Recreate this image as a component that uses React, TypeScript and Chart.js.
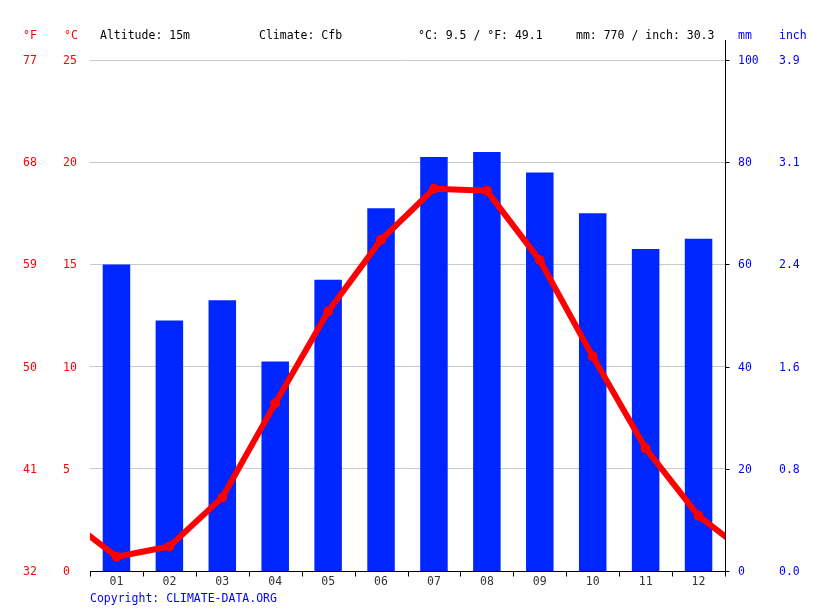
import React, { useEffect, useRef } from 'react';
import { Chart, registerables } from 'chart.js';

Chart.register(...registerables);

const months = ['01', '02', '03', '04', '05', '06', '07', '08', '09', '10', '11', '12'];
const precipitationMm = [60, 49, 53, 41, 57, 71, 81, 82, 78, 70, 63, 65];
const temperatureC = [0.7, 1.2, 3.6, 8.2, 12.7, 16.2, 18.7, 18.6, 15.2, 10.5, 6.0, 2.7];
const celsiusTicks = [0, 5, 10, 15, 20, 25];
const fahrenheitTicks = ['32', '41', '50', '59', '68', '77'];
const mmTicks = [0, 20, 40, 60, 80, 100];
const inchTicks = ['0.0', '0.8', '1.6', '2.4', '3.1', '3.9'];
const headerTexts = ['Altitude: 15m', 'Climate: Cfb', '°C: 9.5 / °F: 49.1', 'mm: 770 / inch: 30.3'];
const copyrightText = 'Copyright: CLIMATE-DATA.ORG';

const FONT = '11.5px "DejaVu Sans Mono", monospace';
const RED = '#ff0000';
const BLUE = '#0000ff';

const overlayPlugin = {
  id: 'overlay',
  afterDraw(chart: any) {
    const { ctx, chartArea } = chart;
    const { left, right, bottom } = chartArea;
    const x = chart.scales.x;
    const y = chart.scales.y;
    const y2 = chart.scales.y2;
    ctx.save();
    ctx.font = FONT;
    ctx.textBaseline = 'middle';
    ctx.textAlign = 'left';

    // header
    ctx.fillStyle = RED;
    ctx.fillText('°F', 23, 36);
    ctx.fillText('°C', 64, 36);
    ctx.fillStyle = BLUE;
    ctx.fillText('mm', 738, 36);
    ctx.fillText('inch', 779, 36);
    ctx.fillStyle = '#000';
    const hx = [100, 259, 418, 576];
    headerTexts.forEach((t, i) => ctx.fillText(t, hx[i], 36));

    // left labels
    celsiusTicks.forEach((v, i) => {
      const py = y.getPixelForValue(v) + 1;
      ctx.fillStyle = RED;
      ctx.fillText(fahrenheitTicks[i], 23, py);
      ctx.fillText(String(v), 63, py);
    });

    // right labels
    mmTicks.forEach((v, i) => {
      const py = y2.getPixelForValue(v) + 1;
      ctx.fillStyle = BLUE;
      ctx.fillText(String(v), 738, py);
      ctx.fillText(inchTicks[i], 779, py);
    });

    // axes lines
    ctx.strokeStyle = '#000';
    ctx.lineWidth = 1;
    const by = Math.round(bottom) + 0.5;
    const rx = Math.round(right) + 0.5;
    ctx.beginPath();
    ctx.moveTo(left, by);
    ctx.lineTo(right + 4, by);
    ctx.moveTo(rx, 40);
    ctx.lineTo(rx, by + 4);
    mmTicks.forEach((v) => {
      const py = Math.round(y2.getPixelForValue(v)) + 0.5;
      ctx.moveTo(rx, py);
      ctx.lineTo(rx + 4, py);
    });
    const step = x.getPixelForValue(1) - x.getPixelForValue(0);
    for (let i = 0; i <= months.length; i++) {
      const px = Math.round(x.getPixelForValue(0) - step / 2 + i * step) + 0.5;
      ctx.moveTo(px, by);
      ctx.lineTo(px, by + 5);
    }
    ctx.stroke();

    // month labels
    ctx.fillStyle = '#333';
    ctx.textAlign = 'center';
    months.forEach((m, i) => ctx.fillText(m, x.getPixelForValue(i), 582));

    // copyright
    ctx.textAlign = 'left';
    ctx.fillStyle = BLUE;
    ctx.fillText(copyrightText, 90, 599);
    ctx.restore();
  },
};

export default function App() {
  const canvasRef = useRef<HTMLCanvasElement | null>(null);

  useEffect(() => {
    document.body.style.margin = '0';
    const canvas = canvasRef.current;
    if (!canvas) return;
    const linePoints = [
      { x: 0, y: temperatureC[temperatureC.length - 1] },
      ...temperatureC.map((t, i) => ({ x: i + 1, y: t })),
      { x: temperatureC.length + 1, y: temperatureC[0] },
    ];
    const chart = new Chart(canvas, {
      data: {
        labels: months,
        datasets: [
          {
            type: 'line',
            data: linePoints as any,
            xAxisID: 'x2',
            yAxisID: 'y',
            borderColor: RED,
            backgroundColor: RED,
            borderWidth: 6,
            borderJoinStyle: 'round',
            pointRadius: (c: any) => (c.dataIndex === 0 || c.dataIndex === linePoints.length - 1 ? 0 : 5),
            pointBorderWidth: 0,
            pointBackgroundColor: RED,
            tension: 0,
            clip: 0,
            order: 0,
          } as any,
          {
            type: 'bar',
            data: precipitationMm,
            xAxisID: 'x',
            yAxisID: 'y2',
            backgroundColor: '#0026ff',
            barPercentage: 1,
            categoryPercentage: 0.52,
            grouped: false,
            order: 1,
          } as any,
        ],
      },
      options: {
        animation: false,
        responsive: false,
        maintainAspectRatio: false,
        devicePixelRatio: 1,
        layout: { padding: { left: 90, right: 90, top: 60, bottom: 40 } },
        plugins: { legend: { display: false }, tooltip: { enabled: false } },
        scales: {
          x: { type: 'category', display: false, offset: true },
          x2: { type: 'linear', display: false, min: 0.5, max: 12.5 },
          y: {
            type: 'linear',
            position: 'left',
            min: 0,
            max: 25,
            ticks: { display: false, stepSize: 5 },
            grid: { color: '#c8c8c8', drawTicks: false },
            border: { display: false },
          },
          y2: { type: 'linear', position: 'right', display: false, min: 0, max: 100 },
        },
      } as any,
      plugins: [overlayPlugin],
    });
    return () => chart.destroy();
  }, []);

  return (
    <div style={{ width: 815, height: 611 }}>
      <canvas ref={canvasRef} width={815} height={611} style={{ width: 815, height: 611 }} />
    </div>
  );
}
